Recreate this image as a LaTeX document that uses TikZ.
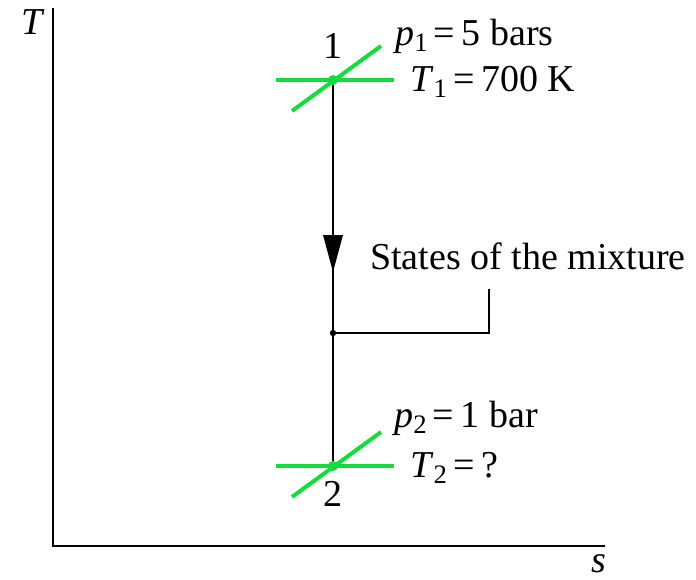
\documentclass[tikz,border=0pt]{standalone}
\usepackage{fontspec}
\setmainfont{Liberation Serif}
\newcommand\lowsub[1]{\raisebox{-0.4ex}{\fontsize{20}{20}\selectfont #1}}
\definecolor{stategreen}{RGB}{20,220,60}
\begin{document}
\begin{tikzpicture}[x=0.75pt,y=-0.75pt,
  lbl/.style={font=\fontsize{28.5}{34}\selectfont, inner sep=0pt},
  iso/.style={draw=stategreen, line width=3pt},
  ax/.style={draw=black, line width=1pt},
  ln/.style={draw=black, line width=1.1pt}]
\useasboundingbox (0,0) rectangle (696,579);
% axes
\coordinate (o) at (53,546);
\coordinate (ytop) at (53,8);
\coordinate (xend) at (605,546);
\draw[ax] (ytop) -- (o) -- (xend);
\node[lbl, font=\fontsize{28.5}{34}\selectfont\itshape] (Tl) at (32,22) {T};
\node[lbl, font=\fontsize{28.5}{34}\selectfont\itshape, anchor=base] (sl) at (599,572) {s};
% states
\coordinate (s1) at (333,80);
\coordinate (s2) at (333,466);
\coordinate (mix) at (333,333);
\coordinate (br) at (489,289);
% isolines state 1
\coordinate (h1a) at (276,80); \coordinate (h1b) at (394,80);
\coordinate (d1a) at (292,111); \coordinate (d1b) at (381,46);
\draw[iso] (h1a) -- (h1b);
\draw[iso] (d1a) -- (d1b);
% isolines state 2
\coordinate (h2a) at (276,466); \coordinate (h2b) at (394,466);
\coordinate (d2a) at (292,497); \coordinate (d2b) at (381,432);
\draw[iso] (h2a) -- (h2b);
\draw[iso] (d2a) -- (d2b);
% process line
\draw[ln] (s1) -- (mix) -- (s2);
\fill[black] (323,235) -- (343,235) -- (333,272) -- cycle;
\draw[ln] (mix) -| (br);
\fill[black] (mix) circle (3.2);
\fill[stategreen] (s1) circle (5);
\fill[stategreen] (s2) circle (5);
% labels
\node[lbl] (n1) at (333,46) {1};
\node[lbl] (n2) at (333,494) {2};
\node[lbl, anchor=base west] (p1) at (395,45) {\textit{p}\lowsub{1}\,=\,5 bars};
\node[lbl, anchor=base west] (T1) at (410,91) {\textit{T}\lowsub{1}\,=\,700 K};
\node[lbl, anchor=base west] (p2) at (394,427) {\textit{p}\lowsub{2}\,=\,1 bar};
\node[lbl, anchor=base west] (T2) at (410,477) {\textit{T}\lowsub{2}\,=\,?};
\node[lbl, anchor=base west] (mixl) at (370,269) {States of the mixture};
\end{tikzpicture}
\end{document}
